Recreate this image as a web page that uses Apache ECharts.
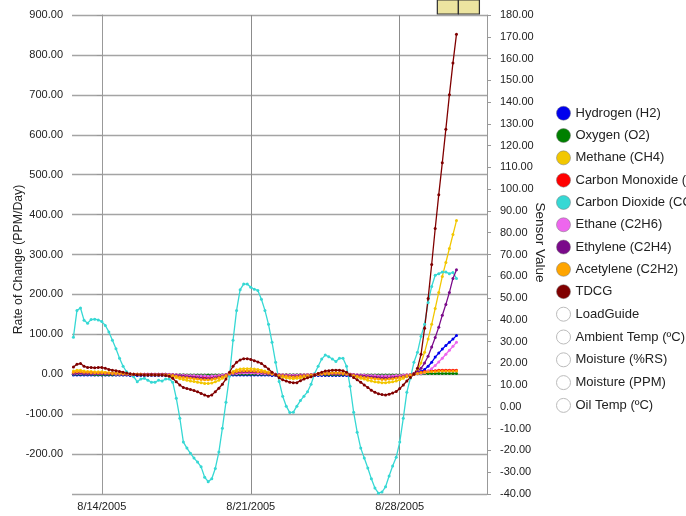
<!DOCTYPE html>
<html>
<head>
<meta charset="utf-8">
<script src="https://cdn.jsdelivr.net/npm/echarts@6/dist/echarts.min.js"></script>
<style>html,body{margin:0;padding:0;background:#fff;}#chart{width:686px;height:516px;}</style>
</head>
<body>
<div id="chart"></div>
<script>
// Sampling: every 4 hours starting 8/12/2005 16:00 (x = days since 8/14/2005 00:00)
const startDay = -4 / 3;
const stepDays = 1 / 6;
const tickDays = [0, 7, 14];
const tickLabels = ['8/14/2005', '8/21/2005', '8/28/2005'];
const eventDays = [16.26, 17.25];

const seriesNames = ['Hydrogen (H2)', 'Oxygen (O2)', 'Methane (CH4)', 'Carbon Monoxide (CO)', 'Carbon Dioxide (CO2)',
  'Ethane (C2H6)', 'Ethylene (C2H4)', 'Acetylene (C2H2)', 'TDCG'];
const hiddenNames = ['LoadGuide', 'Ambient Temp (ºC)', 'Moisture (%RS)', 'Moisture (PPM)', 'Oil Temp (ºC)'];
const colors = ['#0000ee', '#008000', '#f2c700', '#ff0000', '#36d8d4', '#ee66ee', '#7a0a8a', '#ffa500', '#800000'];

const hydrogen = [-2,-2,-2,-2,-2,-2,-2,-2,-2,-2, -2,-2,-2,-2,-2,-2,-3,-3,-3,-3, -3,-3,-3,-3,-3,-3,-3,-3,-3,-4, -4,-4,-5,-5,-5,-5,-5,-5,-5,-5, -5,-5,-4,-3,-2,-2,-2,-2,-2,-2, -2,-2,-2,-2,-2,-2,-3,-3,-4,-4, -4,-4,-4,-4,-4,-4,-4,-3,-3,-3, -3,-3,-3,-3,-3,-3,-3,-3,-4,-4, -5,-5,-5,-5,-5,-5,-5,-5,-5,-5, -5,-5,-5,-5,-5,-3,1,3,7,12, 20,30,43,53,63,72,80,88,97];
const oxygen = [0,0,0,0,0,0,-1,-1,-1,-1, -1,-1,-1,-1,-1,-1,-1,-1,-1,-1, -1,-1,-1,-1,-1,-1,-1,-1,-1,-1, -1,-1,-2,-2,-2,-2,-2,-2,-2,-2, -2,-2,-1,-1,-1,0,0,0,0,0, 0,0,0,0,0,0,-1,-1,-1,-1, -1,-1,-1,-1,-1,-1,-1,-1,-1,-1, -1,-1,-1,-1,-1,-1,-1,-1,-1,-1, -2,-2,-2,-2,-2,-2,-2,-2,-2,-2, -2,-2,-2,-2,-2,-1,0,1,1,2, 2,2,2,2,2,2,2,2,2];
const methane = [8,10,10,8,7,7,6,6,6,5, 4,4,3,3,2,1,0,0,0,-1, -1,-1,-1,-1,-1,-1,-2,-3,-5,-8, -11,-13,-15,-17,-18,-20,-21,-23,-23,-22, -19,-15,-10,-5,2,7,11,13,14,14, 14,13,12,10,8,5,2,-1,-4,-7, -9,-10,-11,-10,-9,-7,-5,-3,-1,1, 2,3,4,4,4,4,3,2,-1,-4, -7,-10,-12,-15,-17,-19,-20,-21,-21,-20, -19,-17,-14,-10,-6,-3,2,10,28,55, 88,125,165,205,245,280,315,350,385];
const carbonMonoxide = [3,4,4,3,3,3,2,2,2,2, 2,1,1,1,1,0,0,0,0,0, 0,0,0,0,0,0,0,-1,-1,-2, -3,-4,-4,-5,-5,-6,-6,-7,-7,-6, -5,-4,-3,-1,1,2,3,4,5,5, 5,4,4,3,2,1,1,0,-1,-2, -2,-3,-3,-3,-2,-2,-1,-1,0,0, 1,1,1,1,1,1,1,0,0,-1, -2,-3,-3,-4,-5,-5,-6,-6,-6,-6, -5,-5,-4,-3,-2,-1,1,3,5,7, 8,9,9,10,10,10,10,10,10];
const carbonDioxide = [93,160,166,135,128,137,138,136,132,122, 106,85,64,40,20,6,0,-6,-19,-12, -10,-15,-20,-20,-15,-17,-12,-12,-20,-60, -110,-170,-185,-198,-210,-220,-232,-258,-269,-262, -236,-195,-135,-70,-5,85,160,212,226,226, 218,213,210,188,160,125,80,30,-18,-55, -80,-96,-95,-80,-66,-55,-44,-25,2,20, 38,48,44,38,32,40,40,20,-30,-95, -145,-185,-210,-235,-262,-285,-298,-295,-282,-255, -230,-208,-170,-110,-45,-10,30,55,95,125, 180,220,248,252,256,256,252,255,240];
const ethane = [1,2,2,1,1,1,1,1,1,1, 1,1,0,0,0,0,0,0,0,0, 0,0,0,0,0,0,0,0,-1,-1, -2,-2,-3,-3,-3,-4,-4,-4,-5,-4, -4,-3,-2,-1,0,1,2,3,3,3, 3,3,2,2,1,1,0,0,-1,-1, -2,-2,-2,-2,-2,-1,-1,-1,0,0, 0,1,1,1,1,1,1,0,0,-1, -1,-2,-2,-3,-3,-3,-4,-4,-4,-4, -4,-3,-3,-2,-1,-1,0,1,2,4, 8,14,22,31,40,50,60,70,80];
const ethylene = [2,3,3,2,2,2,2,2,2,1, 1,1,1,1,0,0,0,0,0,0, 0,0,0,0,0,0,0,-1,-2,-3, -4,-5,-6,-7,-8,-9,-10,-11,-11,-11, -9,-7,-5,-2,1,3,5,6,7,7, 7,6,6,5,4,2,1,0,-2,-3, -4,-5,-5,-5,-4,-3,-3,-2,-1,0, 1,1,2,2,2,2,1,1,0,-2, -3,-4,-5,-6,-7,-8,-9,-10,-10,-10, -9,-8,-7,-5,-4,-2,2,7,15,28, 45,68,92,118,148,175,205,240,262];
const acetylene = [5,6,6,5,5,4,4,4,4,3, 3,2,2,2,1,1,0,0,0,0, -1,-1,-1,-1,-1,-1,-1,-2,-3,-5, -7,-8,-9,-10,-11,-12,-13,-14,-14,-13, -11,-9,-6,-3,1,4,7,8,9,9, 9,8,7,6,5,3,1,-1,-3,-4, -5,-6,-7,-6,-5,-4,-3,-2,-1,0, 1,2,2,3,3,3,2,1,-1,-3, -5,-6,-8,-9,-10,-11,-12,-13,-13,-12, -11,-10,-8,-6,-4,-2,0,2,4,5, 6,7,7,8,8,8,8,8,8];
const tdcg = [18,25,27,20,17,17,16,17,17,15, 12,10,9,7,5,3,1,0,-1,-1, -2,-2,-1,-2,-2,-2,-3,-5,-10,-19, -27,-33,-36,-38,-41,-44,-48,-52,-55,-52, -44,-35,-25,-12,5,20,30,36,39,39, 37,34,31,27,20,13,5,-1,-9,-14, -17,-20,-21,-21,-16,-12,-9,-6,-2,2, 5,8,9,10,10,10,9,5,-2,-8, -14,-20,-27,-33,-40,-45,-49,-51,-52,-50, -47,-43,-36,-27,-17,-8,0,15,50,115, 190,275,365,450,530,614,700,780,852];

const seriesValues = [hydrogen, oxygen, methane, carbonMonoxide, carbonDioxide, ethane, ethylene, acetylene, tdcg];

const font = 'Liberation Sans, Arial, sans-serif';
const chart = echarts.init(document.getElementById('chart'), null, {renderer: 'canvas'});

const series = seriesValues.map((vals, k) => {
  const s = {
    name: seriesNames[k],
    type: 'line',
    yAxisIndex: 0,
    data: vals.map((v, i) => [startDay + i * stepDays, v]),
    symbol: 'circle',
    symbolSize: 3,
    showSymbol: true,
    lineStyle: {width: 1.3, color: colors[k]},
    itemStyle: {color: colors[k]},
    emphasis: {disabled: true},
    animation: false,
    z: 3
  };
  if (seriesNames[k] === 'TDCG') {
    s.markPoint = {
      symbol: 'rect',
      symbolSize: [21, 14],
      symbolOffset: [0, -8],
      itemStyle: {color: '#ece4a0', borderColor: '#333', borderWidth: 1},
      label: {show: false},
      data: eventDays.map(d => ({coord: [d, 900]}))
    };
  }
  return s;
});
hiddenNames.forEach(n => series.push({name: n, type: 'line', yAxisIndex: 1, data: []}));

const legendData = seriesNames.map((n, k) => ({
  name: n,
  itemStyle: {color: colors[k], borderColor: '#777', borderWidth: 0.5}
})).concat(hiddenNames.map(n => ({
  name: n,
  itemStyle: {color: '#fff', borderColor: '#bbb', borderWidth: 1}
})));

chart.setOption({
  animation: false,
  textStyle: {fontFamily: font},
  color: colors,
  grid: {left: 72, right: 199, top: 15, bottom: 22, containLabel: false},
  legend: {
    orient: 'vertical',
    left: 551,
    top: 101,
    icon: 'circle',
    itemWidth: 14,
    itemHeight: 14,
    itemGap: 7.8,
    selectedMode: false,
    data: legendData,
    textStyle: {fontSize: 13, color: '#222', fontFamily: font}
  },
  xAxis: {
    type: 'value',
    min: -1.4,
    max: 18.1,
    axisLine: {show: true, lineStyle: {color: '#999', width: 1}},
    axisTick: {show: true, customValues: tickDays, length: 4, lineStyle: {color: '#888'}},
    axisLabel: {
      customValues: tickDays,
      margin: 7,
      fontSize: 11,
      color: '#222',
      formatter: v => tickLabels[tickDays.indexOf(Math.round(v))] || ''
    },
    splitLine: {show: true, customValues: tickDays, lineStyle: {color: '#8c8c8c', width: 1}}
  },
  yAxis: [{
    type: 'value',
    min: -300,
    max: 900,
    interval: 100,
    name: 'Rate of Change (PPM/Day)',
    nameLocation: 'middle',
    nameRotate: 90,
    nameGap: 47,
    nameMoveOverlap: false,
    nameTextStyle: {fontSize: 12.3, color: '#222', fontFamily: font, padding: [0, 10, 0, 0]},
    axisLine: {show: true, lineStyle: {color: '#999'}},
    axisTick: {show: true, length: 5, lineStyle: {color: '#999'}},
    axisLabel: {showMinLabel: false, margin: 9, fontSize: 11, color: '#222', formatter: v => v.toFixed(2)},
    splitLine: {show: true, lineStyle: {color: '#a4a4a4', width: 1.4}}
  }, {
    type: 'value',
    position: 'right',
    min: -40,
    max: 180,
    interval: 10,
    name: 'Sensor Value',
    nameLocation: 'middle',
    nameRotate: -90,
    nameGap: 46,
    nameMoveOverlap: false,
    nameTextStyle: {fontSize: 13.5, color: '#222', fontFamily: font, padding: [0, 24, 0, 0]},
    axisLine: {show: true, lineStyle: {color: '#999'}},
    axisTick: {show: true, length: 4, lineStyle: {color: '#999'}},
    axisLabel: {margin: 13, fontSize: 11, color: '#222', formatter: v => v.toFixed(2)},
    splitLine: {show: false}
  }],
  series: series
});
</script>
</body>
</html>
